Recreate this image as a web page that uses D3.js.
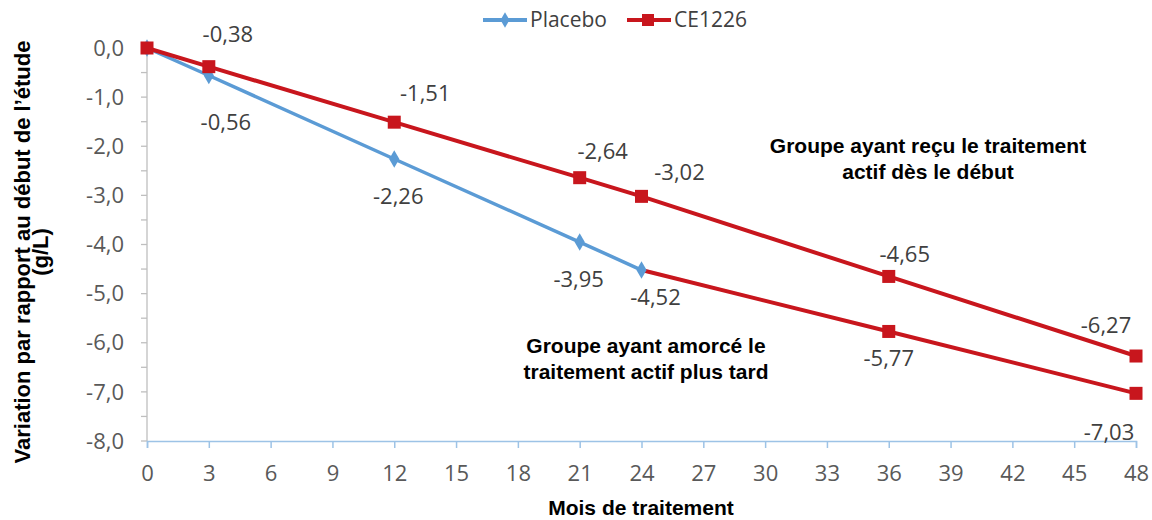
<!DOCTYPE html>
<html>
<head>
<meta charset="utf-8">
<script src="https://cdn.jsdelivr.net/npm/d3@7"></script>
<style>
  body { margin: 0; background: #fff; }
</style>
</head>
<body>
<script>
// chart values
const months = [0, 3, 6, 9, 12, 15, 18, 21, 24, 27, 30, 33, 36, 39, 42, 45, 48];
const yTicks = [0, -1, -2, -3, -4, -5, -6, -7, -8];

const placeboMonths = [0, 3, 12, 21, 24];
const placeboValues = [0, -0.56, -2.26, -3.95, -4.52];

const earlyMonths = [0, 3, 12, 21, 24, 36, 48];
const earlyValues = [0, -0.38, -1.51, -2.64, -3.02, -4.65, -6.27];

const lateMonths = [24, 36, 48];
const lateValues = [-4.52, -5.77, -7.03];

// label offsets (px) from each point
const placeboOffsets = [null, [17, 47], [4, 37], [-1, 37], [14, 27]];
const earlyOffsets = [null, [19, -32], [31, -29], [23, -26], [38, -24], [16, -22], [-30, -31]];
const lateOffsets = [null, [0, 27], [-27, 39]];

const W = 1152, H = 520;
const margin = { left: 147, right: 16, top: 48, bottom: 79 };

const blue = "#5b9bd5";
const red = "#c8161d";
const numFont = "'Open Sans', sans-serif";
const bold = "'Liberation Sans', Arial, sans-serif";

const svg = d3.select("body")
  .append("svg")
  .attr("width", W)
  .attr("height", H)
  .style("font-family", numFont);

const x = d3.scaleLinear().domain([0, 48]).range([margin.left, W - margin.right]);
const y = d3.scaleLinear().domain([0, -8]).range([margin.top, H - margin.bottom]);

const fmt = v => d3.format(".2f")(v).replace(".", ",").replace("−", "-");
const fmt1 = v => d3.format(".1f")(v).replace(".", ",").replace("−", "-");

// y axis: gray line, major + minor ticks to the left
svg.append("line")
  .attr("x1", x(0)).attr("x2", x(0))
  .attr("y1", y(0)).attr("y2", y(-8))
  .attr("stroke", "#bfbfbf").attr("stroke-width", 1.3);

d3.range(0, -8.01, -0.5).forEach(v => {
  svg.append("line")
    .attr("x1", x(0) - 6).attr("x2", x(0))
    .attr("y1", y(v)).attr("y2", y(v))
    .attr("stroke", "#bfbfbf").attr("stroke-width", 1.3);
});

svg.selectAll(".ylab")
  .data(yTicks)
  .enter()
  .append("text")
  .attr("x", 124)
  .attr("y", d => y(d))
  .attr("dy", "0.35em")
  .attr("text-anchor", "end")
  .attr("font-size", 22)
  .attr("fill", "#595959")
  .text(d => fmt1(d));

// x axis at -8
const xAxis = d3.axisBottom(x)
  .tickValues(months)
  .tickSize(7)
  .tickFormat(d => d);

const gx = svg.append("g")
  .attr("transform", `translate(0,${y(-8)})`)
  .call(xAxis);
gx.select(".domain").attr("stroke", "#9dc3e6").attr("stroke-width", 1.5);
gx.selectAll(".tick line").attr("stroke", "#9dc3e6").attr("stroke-width", 1.5);
gx.selectAll(".tick text")
  .attr("font-size", 22)
  .attr("font-family", numFont)
  .attr("fill", "#595959")
  .attr("y", 32)
  .attr("dy", "0.35em");

// series
const line = d3.line().x(d => x(d[0])).y(d => y(d[1]));

const placebo = d3.zip(placeboMonths, placeboValues);
const early = d3.zip(earlyMonths, earlyValues);
const late = d3.zip(lateMonths, lateValues);

svg.append("path").datum(placebo)
  .attr("d", line).attr("fill", "none")
  .attr("stroke", blue).attr("stroke-width", 3.5);

svg.append("path").datum(early)
  .attr("d", line).attr("fill", "none")
  .attr("stroke", red).attr("stroke-width", 4);

svg.append("path").datum(late)
  .attr("d", line).attr("fill", "none")
  .attr("stroke", red).attr("stroke-width", 4);

const diamond = d3.symbol().type(d3.symbolDiamond).size(90);

svg.selectAll(".pm")
  .data(placebo)
  .enter()
  .append("path")
  .attr("d", diamond)
  .attr("transform", d => `translate(${x(d[0])},${y(d[1])})`)
  .attr("fill", blue);

svg.selectAll(".em")
  .data(early.concat(late.slice(1)))
  .enter()
  .append("rect")
  .attr("x", d => x(d[0]) - 6.5)
  .attr("y", d => y(d[1]) - 6.5)
  .attr("width", 13).attr("height", 13)
  .attr("fill", red);

// value labels
const addLabels = (pts, offsets) => {
  pts.forEach((d, i) => {
    if (!offsets[i]) return;
    svg.append("text")
      .attr("x", x(d[0]) + offsets[i][0])
      .attr("y", y(d[1]) + offsets[i][1])
      .attr("dy", "0.35em")
      .attr("text-anchor", "middle")
      .attr("font-size", 22)
      .attr("fill", "#404040")
      .text(fmt(d[1]));
  });
};
addLabels(placebo, placeboOffsets);
addLabels(early, earlyOffsets);
addLabels(late, lateOffsets);

// legend
const legend = [
  { name: "Placebo", color: blue, x0: 483 },
  { name: "CE1226", color: red, x0: 627 }
];
legend.forEach(l => {
  const g = svg.append("g").attr("transform", `translate(${l.x0},20)`);
  g.append("line").attr("x1", 0).attr("x2", 44)
    .attr("stroke", l.color).attr("stroke-width", 4);
  if (l.name === "Placebo") {
    g.append("path").attr("d", d3.symbol().type(d3.symbolDiamond).size(70))
      .attr("transform", "translate(22,0)").attr("fill", l.color);
  } else {
    g.append("rect").attr("x", 15).attr("y", -6).attr("width", 12).attr("height", 12)
      .attr("fill", l.color);
  }
  g.append("text").attr("x", 47).attr("dy", "0.35em")
    .attr("font-size", 21).attr("fill", "#404040")
    .text(l.name);
});

// annotations
const note = (lines, cx, y0) => {
  lines.forEach((t, i) => {
    svg.append("text")
      .attr("x", cx).attr("y", y0 + i * 26)
      .attr("dy", "0.35em")
      .attr("text-anchor", "middle")
      .attr("font-family", bold)
      .attr("font-weight", "bold")
      .attr("font-size", 21)
      .attr("fill", "#000")
      .text(t);
  });
};
note(["Groupe ayant reçu le traitement", "actif dès le début"], 928, 146);
note(["Groupe ayant amorcé le", "traitement actif plus tard"], 646, 346);

// axis titles
svg.append("text")
  .attr("x", 641).attr("y", 508)
  .attr("dy", "0.35em")
  .attr("text-anchor", "middle")
  .attr("font-family", bold).attr("font-weight", "bold")
  .attr("font-size", 21)
  .text("Mois de traitement");

const yt = svg.append("text")
  .attr("transform", "translate(22,252) rotate(-90)")
  .attr("text-anchor", "middle")
  .attr("font-family", bold).attr("font-weight", "bold")
  .attr("font-size", 22);
yt.append("tspan").attr("x", 0).attr("dy", "0.35em")
  .text("Variation par rapport au début de l’étude");
yt.append("tspan").attr("x", 0).attr("dy", "0.85em").text("(g/L)");
</script>
</body>
</html>
